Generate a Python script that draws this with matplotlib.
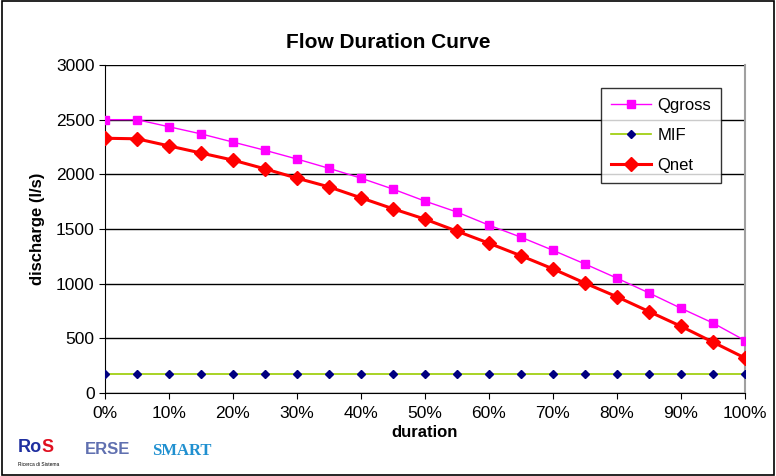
import numpy as np
import matplotlib.pyplot as plt
from matplotlib.ticker import FuncFormatter
from matplotlib.patches import Rectangle

plt.rcParams['font.family'] = ['Liberation Sans', 'DejaVu Sans']

# data
duration = [0, 5, 10, 15, 20, 25, 30, 35, 40, 45, 50, 55, 60, 65, 70, 75, 80, 85, 90, 95, 100]
qgross = [2500, 2500, 2435, 2370, 2295, 2220, 2140, 2055, 1965, 1865, 1755, 1655, 1535, 1425, 1305, 1180, 1050, 915, 775, 640, 480]
mif = [170] * 21
qnet = [2330, 2325, 2260, 2195, 2130, 2050, 1965, 1885, 1785, 1685, 1590, 1480, 1370, 1255, 1135, 1005, 880, 745, 610, 465, 320]

fig = plt.figure(figsize=(7.76, 4.76), dpi=100)
ax = fig.add_axes([105/776, 1 - 393/476, 640/776, 328/476])

ax.plot(duration, qgross, color='#ff00ff', lw=1, marker='s', ms=6, label='Qgross', zorder=3)
ax.plot(duration, mif, color='#99cc00', lw=1.2, marker='D', ms=4.5, mfc='#000080', mec='#000080', label='MIF', zorder=3)
ax.plot(duration, qnet, color='#ff0000', lw=2.2, marker='D', ms=7, label='Qnet', zorder=4)

ax.set_xlim(0, 100)
ax.set_ylim(0, 3000)
ax.set_xticks(range(0, 101, 10))
ax.xaxis.set_major_formatter(FuncFormatter(lambda v, p: f'{int(v)}%'))
ax.set_yticks(range(0, 3001, 500))
ax.yaxis.grid(True, color='black', lw=1)
ax.set_axisbelow(True)
ax.tick_params(labelsize=12.5, direction='out', length=4, colors='black')
ax.tick_params(axis='x', pad=5)
for s in ['top', 'left', 'bottom']:
    ax.spines[s].set_color('black')
ax.spines['top'].set_visible(False)
ax.spines['right'].set_color('#a0a0a0')
ax.spines['right'].set_linewidth(1.5)

ax.set_ylabel('discharge (l/s)', fontsize=12, fontweight='bold', labelpad=8)
ax.set_xlabel('duration', fontsize=12, fontweight='bold', labelpad=3)
fig.text(0.5, 1 - 42/476, 'Flow Duration Curve', ha='center', va='center', fontsize=15, fontweight='bold')

leg = ax.legend(loc='upper right', bbox_to_anchor=(0.963, 0.93), borderaxespad=0, fontsize=12, frameon=True,
                fancybox=False, edgecolor='black', handlelength=2.4, handletextpad=0.4,
                borderpad=0.6, labelspacing=0.9)
leg.get_frame().set_linewidth(1)

# logos (approximated as text)
fig.text(18/776, 1 - 448/476, 'Ro', color='#1f2fa0', fontsize=13, fontweight='bold', va='center')
fig.text(41/776, 1 - 448/476, 'S', color='#e01020', fontsize=13, fontweight='bold', va='center')
fig.text(18/776, 1 - 464/476, 'Ricerca di Sistema', fontsize=3.5, va='center')
fig.text(85/776, 1 - 449/476, 'ERSE', color='#6070b0', fontsize=12, fontweight='bold', va='center')
fig.text(152/776, 1 - 451/476, 'SMART', color='#2090d0', fontsize=12, fontweight='bold', va='center', family='Liberation Serif')

# outer border
fig.patches.append(Rectangle((0.003, 0.003), 0.994, 0.994, transform=fig.transFigure,
                             fill=False, edgecolor='black', lw=1.2))

fig.savefig('out.png', dpi=100)
